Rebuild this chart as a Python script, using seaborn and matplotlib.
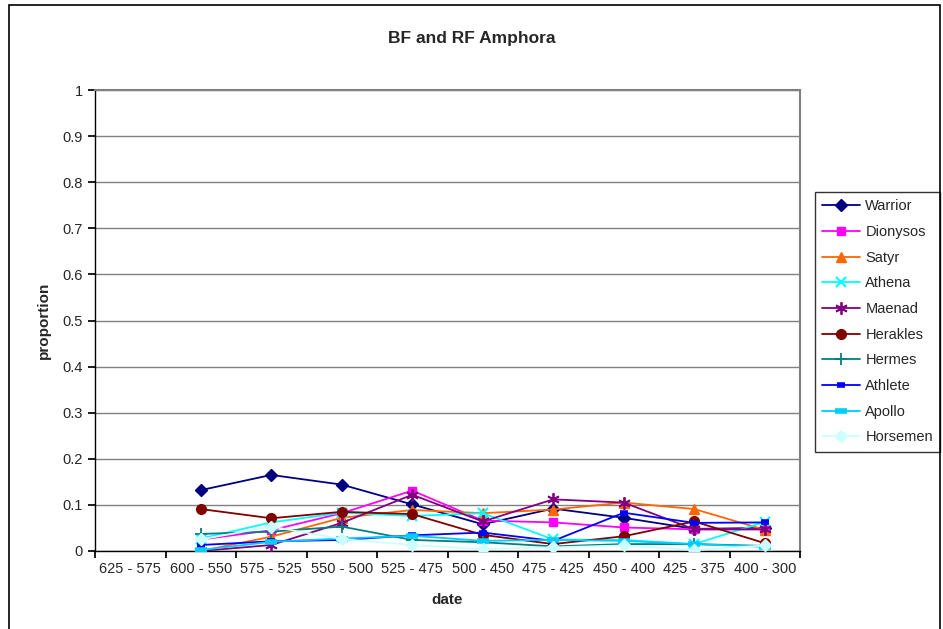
import numpy as np
import pandas as pd
import matplotlib
matplotlib.use('Agg')
import matplotlib.pyplot as plt
import seaborn as sns
from matplotlib.patches import Rectangle

# ------------------------------------------------------------
# data
# ------------------------------------------------------------
dates = ['625 - 575', '600 - 550', '575 - 525', '550 - 500', '525 - 475',
         '500 - 450', '475 - 425', '450 - 400', '425 - 375', '400 - 300']

warrior   = [np.nan, 0.132, 0.165, 0.144, 0.101, 0.058, 0.092, 0.072, 0.048, 0.050]
dionysos  = [np.nan, 0.025, 0.045, 0.082, 0.131, 0.066, 0.062, 0.051, 0.047, 0.047]
satyr     = [np.nan, 0.000, 0.031, 0.072, 0.089, 0.082, 0.090, 0.105, 0.091, 0.046]
athena    = [np.nan, 0.027, 0.062, 0.083, 0.076, 0.082, 0.025, 0.024, 0.015, 0.063]
maenad    = [np.nan, 0.000, 0.013, 0.061, 0.122, 0.064, 0.112, 0.105, 0.047, 0.047]
herakles  = [np.nan, 0.091, 0.071, 0.085, 0.080, 0.035, 0.015, 0.032, 0.064, 0.017]
hermes    = [np.nan, 0.037, 0.042, 0.053, 0.024, 0.019, 0.010, 0.015, 0.015, 0.011]
athlete   = [np.nan, 0.013, 0.021, 0.024, 0.034, 0.040, 0.022, 0.083, 0.061, 0.062]
apollo    = [np.nan, 0.002, 0.020, 0.027, 0.033, 0.022, 0.024, 0.022, 0.015, 0.009]
horsemen  = [np.nan, 0.025, 0.053, 0.026, 0.013, 0.004, 0.008, 0.012, 0.002, 0.012]

series = {
    'Warrior': warrior, 'Dionysos': dionysos, 'Satyr': satyr, 'Athena': athena,
    'Maenad': maenad, 'Herakles': herakles, 'Hermes': hermes, 'Athlete': athlete,
    'Apollo': apollo, 'Horsemen': horsemen,
}

colors = {
    'Warrior': '#000080', 'Dionysos': '#FF00FF', 'Satyr': '#FF6600',
    'Athena': '#00FFFF', 'Maenad': '#800080', 'Herakles': '#800000',
    'Hermes': '#008080', 'Athlete': '#0000FF', 'Apollo': '#00CCFF',
    'Horsemen': '#CCFFFF',
}
# (marker, size, edge width)
markers = {
    'Warrior': ('D', 6, 1), 'Dionysos': ('s', 6, 1), 'Satyr': ('^', 7, 1),
    'Athena': ('x', 7, 1.5), 'Maenad': ((6, 2, 0), 9, 1.3), 'Herakles': ('o', 7, 1),
    'Hermes': ('+', 8, 1.3), 'Athlete': ('_', 6, 4), 'Apollo': ('_', 9, 4),
    'Horsemen': ('D', 6, 1),
}

positions = np.arange(len(dates))

# ------------------------------------------------------------
# plot
# ------------------------------------------------------------
sns.set_theme(style='white')
plt.rcParams['font.family'] = ['Liberation Sans', 'DejaVu Sans']

fig = plt.figure(figsize=(9.43, 6.29), dpi=100)
ax = fig.add_axes([95 / 943, 1 - 551 / 629, 705 / 943, 461 / 629])

for name, vals in series.items():
    d = pd.DataFrame({'pos': positions, 'proportion': vals}).dropna()
    m, ms, mew = markers[name]
    sns.lineplot(data=d, x='pos', y='proportion', color=colors[name],
                 marker=m, markersize=ms, markeredgewidth=mew,
                 markeredgecolor=colors[name], linewidth=1.3,
                 label=name, ax=ax, zorder=3)

ax.set_xlim(-0.5, len(dates) - 0.5)
ax.set_ylim(0, 1)
ax.set_yticks(np.arange(0, 1.01, 0.1))
ax.set_yticklabels(['0'] + [f'{v:.1f}' for v in np.arange(0.1, 0.95, 0.1)] + ['1'])
ax.yaxis.grid(True, color='#808080', lw=1)
ax.set_axisbelow(True)

# category ticks between categories, labels centered
ax.set_xticks(np.arange(-0.5, len(dates), 1))
ax.set_xticklabels([])
ax.set_xticks(positions, minor=True)
ax.set_xticklabels(dates, minor=True)
ax.tick_params(axis='x', which='major', direction='out', length=5, color='black',
               bottom=True)
ax.tick_params(axis='x', which='minor', length=0, pad=8, labelsize=10.5)
ax.tick_params(axis='y', direction='out', length=5, color='black', left=True,
               labelsize=10.5, pad=4)

for s in ['left', 'bottom']:
    ax.spines[s].set_color('black')
    ax.spines[s].set_linewidth(1)
for s in ['top', 'right']:
    ax.spines[s].set_color('#808080')
    ax.spines[s].set_linewidth(1.5)

ax.set_xlabel('date', fontsize=11, fontweight='bold', labelpad=12)
ax.set_ylabel('proportion', fontsize=11, fontweight='bold', labelpad=8)
fig.text(0.5, 1 - 38 / 629, 'BF and RF Amphora', ha='center', va='center',
         fontsize=12.5, fontweight='bold')

leg = ax.legend(loc='upper left', bbox_to_anchor=(815 / 943, 1 - 192 / 629),
                bbox_transform=fig.transFigure, frameon=True, fancybox=False,
                fontsize=10.5, handlelength=2.6, labelspacing=0.8,
                borderpad=0.5, handletextpad=0.35, borderaxespad=0)
leg.get_frame().set_edgecolor('black')
leg.get_frame().set_linewidth(1)

# outer chart border
fig.patches.append(Rectangle((9 / 943, -0.01), 931 / 943, 1 - 5 / 629 + 0.01,
                             transform=fig.transFigure, fill=False,
                             edgecolor='black', lw=1.2))

fig.savefig('out.png', dpi=100)
